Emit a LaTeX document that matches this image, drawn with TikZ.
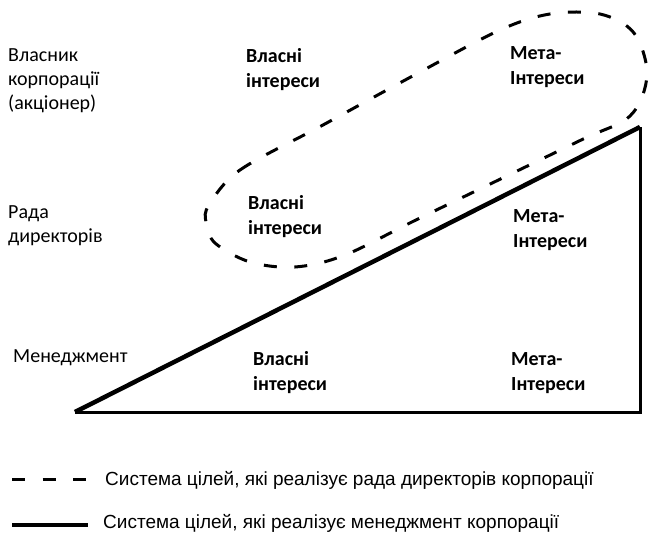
\documentclass[tikz,border=0pt]{standalone}
\usepackage{fontspec}
\setmainfont{Carlito}
\newfontfamily\legfont{Liberation Sans}
\tikzset{
  lbl/.style={anchor=base west, align=left, inner sep=0pt, font=\fontsize{20}{24}\selectfont},
  intr/.style={lbl, font=\fontsize{20}{25}\selectfont\bfseries},
  leg/.style={anchor=base west, inner sep=0pt, font=\legfont\fontsize{19}{22}\selectfont},
  dsh/.style={line width=3pt, dash pattern=on 13pt off 17.5pt},
}
\begin{document}
\begin{tikzpicture}[x=1pt,y=-1pt]
\useasboundingbox (0,0) rectangle (649,533);
\node[lbl] (own) at (8,109) {Власник\\корпорації\\(акціонер)};
\node[lbl] (dir) at (8,242) {Рада\\директорів};
\node[lbl] (man) at (13,362) {Менеджмент};
\node[intr] (own1) at (246,87) {Власні\\інтереси};
\node[intr] (own2) at (510,84) {Мета-\\Інтереси};
\node[intr] (dir1) at (248,234) {Власні\\інтереси};
\node[intr] (dir2) at (513,247) {Мета-\\Інтереси};
\node[intr] (man1) at (253,390) {Власні\\інтереси};
\node[intr] (man2) at (511,390) {Мета-\\Інтереси};
\coordinate (a) at (75,412);
\coordinate (b) at (640,412);
\coordinate (c) at (640,127);
\draw[line width=3pt] (a) -- (b) -- (c);
\draw[line width=4.5pt] (a) -- (c);
\draw[dsh] plot[smooth cycle, tension=0.55] coordinates {(209,205) (240,170) (323,125) (420,72) (500,30) (550,14) (600,14) (634,33) (647,75) (630,116) (577,142) (420,218) (345,255) (295,267) (250,262) (215,243) (206,222)};
\coordinate (l1a) at (12,479);
\coordinate (l1b) at (88,479);
\coordinate (l2a) at (12,525);
\coordinate (l2b) at (88,525);
\draw[dsh] (l1a) -- (l1b);
\draw[line width=4pt] (l2a) -- (l2b);
\node[leg] (t1) at (105,485) {Система цілей, які реалізує рада директорів корпорації};
\node[leg] (t2) at (103,528) {Система цілей, які реалізує менеджмент корпорації};
\end{tikzpicture}
\end{document}
